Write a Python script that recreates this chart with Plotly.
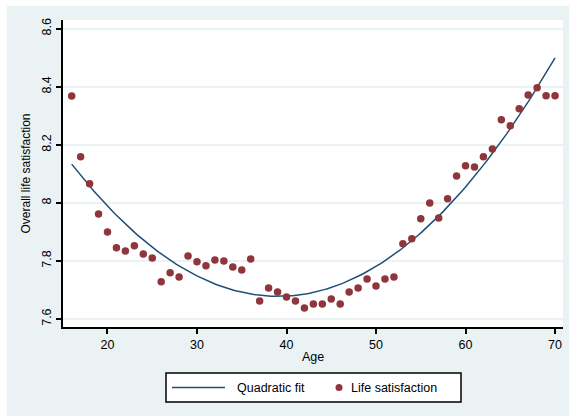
import numpy as np
import plotly.graph_objects as go

ages = list(range(16, 71))
life_satisfaction = [
    8.368, 8.159, 8.066, 7.962, 7.900, 7.845, 7.834, 7.852, 7.824, 7.810,
    7.728, 7.759, 7.745, 7.817, 7.797, 7.783, 7.803, 7.800, 7.779, 7.769,
    7.807, 7.662, 7.707, 7.693, 7.676, 7.662, 7.638, 7.652, 7.652, 7.669,
    7.652, 7.693, 7.707, 7.738, 7.714, 7.738, 7.745, 7.859, 7.876, 7.945,
    8.000, 7.948, 8.014, 8.093, 8.128, 8.124, 8.159, 8.186, 8.286, 8.266,
    8.324, 8.372, 8.397, 8.369, 8.369,
]
y_ticks = [7.6, 7.8, 8.0, 8.2, 8.4, 8.6]
y_tick_labels = ["7.6", "7.8", "8", "8.2", "8.4", "8.6"]
x_ticks = [20, 30, 40, 50, 60, 70]
legend_labels = ["Quadratic fit", "Life satisfaction"]

# quadratic fit of the data
coef = np.polyfit(ages, life_satisfaction, 2)
fit_x = np.linspace(min(ages), max(ages), 200)
fit_y = np.polyval(coef, fit_x)

FONT = "Liberation Sans, Arial, sans-serif"
BG = "#EAF2F3"
LINE_COLOR = "#1F4E79"
MARKER_COLOR = "#90353B"

W, H = 569, 416
L, R, T, B = 63, 6, 20, 89
PW, PH = W - L - R, H - T - B


def px(x):
    return (x - L) / PW


def py(y):
    return (H - B - y) / PH


fig = go.Figure()
fig.add_trace(go.Scatter(
    x=fit_x, y=fit_y, mode="lines", name=legend_labels[0],
    line=dict(color=LINE_COLOR, width=1.5), showlegend=False,
))
fig.add_trace(go.Scatter(
    x=ages, y=life_satisfaction, mode="markers", name=legend_labels[1],
    marker=dict(color=MARKER_COLOR, size=7.5, symbol="circle"), showlegend=False,
))

shapes = [
    # white outer strips (left and top)
    dict(type="rect", xref="paper", yref="paper", x0=px(0), x1=px(7),
         y0=py(H), y1=py(0), fillcolor="white", line=dict(width=0), layer="below"),
    dict(type="rect", xref="paper", yref="paper", x0=px(0), x1=px(W),
         y0=py(6), y1=py(0), fillcolor="white", line=dict(width=0), layer="below"),
    # legend box
    dict(type="rect", xref="paper", yref="paper", x0=px(166), x1=px(461),
         y0=py(402), y1=py(373), fillcolor="white",
         line=dict(color="#000000", width=1.5), layer="above"),
    # legend line sample
    dict(type="line", xref="paper", yref="paper", x0=px(172), x1=px(225),
         y0=py(387.5), y1=py(387.5), line=dict(color=LINE_COLOR, width=1.5),
         layer="above"),
    # legend marker sample
    dict(type="circle", xref="paper", yref="paper", x0=px(335.5), x1=px(342.5),
         y0=py(391), y1=py(384), fillcolor=MARKER_COLOR,
         line=dict(width=0), layer="above"),
]

annotations = [
    dict(text=legend_labels[0], xref="paper", yref="paper", x=px(235), y=py(387.5),
         xanchor="left", yanchor="middle", showarrow=False,
         font=dict(family=FONT, size=12.5, color="#000000")),
    dict(text=legend_labels[1], xref="paper", yref="paper", x=px(349), y=py(387.5),
         xanchor="left", yanchor="middle", showarrow=False,
         font=dict(family=FONT, size=12.5, color="#000000")),
]

fig.update_layout(
    width=W, height=H,
    margin=dict(l=L, r=R, t=T, b=B, pad=0),
    paper_bgcolor=BG,
    plot_bgcolor="white",
    font=dict(family=FONT, size=12.5, color="#000000"),
    showlegend=False,
    shapes=shapes,
    annotations=annotations,
)

fig.update_xaxes(
    range=[15.03, 70.89],
    tickvals=x_ticks,
    ticks="outside", ticklen=5, tickwidth=1.5, tickcolor="#000000",
    showline=True, linecolor="#000000", linewidth=1.5,
    showgrid=False, zeroline=False, automargin=False,
    title=dict(text="Age", standoff=1, font=dict(size=12.5)),
    tickfont=dict(size=12.5),
)
fig.update_yaxes(
    range=[7.5724, 8.630],
    tickvals=y_ticks, ticktext=y_tick_labels,
    tickangle=-90,
    ticks="outside", ticklen=5, tickwidth=1.5, tickcolor="#000000",
    showline=True, linecolor="#000000", linewidth=1.5,
    showgrid=True, gridcolor=BG, gridwidth=1.5,
    zeroline=False, automargin=False,
    title=dict(text="Overall life satisfaction", standoff=7, font=dict(size=12)),
    tickfont=dict(size=12.5),
)

fig.write_html(
    "out.html",
    config={"displayModeBar": False},
    post_script="document.body.style.margin='0';document.body.style.overflow='hidden';",
)
